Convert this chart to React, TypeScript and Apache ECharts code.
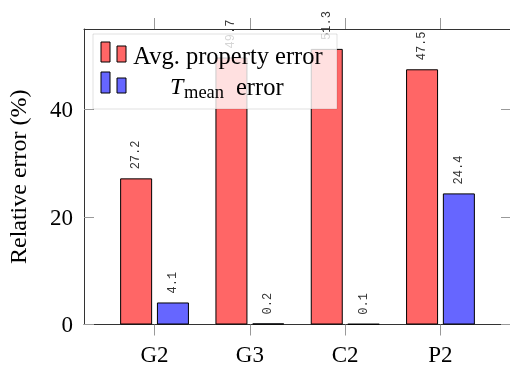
import React, { useEffect, useRef } from "react";
import * as echarts from "echarts";

const categories = ["G2", "G3", "C2", "P2"];
const avgPropertyError = [27.2, 49.7, 51.3, 47.5];
const tMeanError = [4.1, 0.2, 0.1, 24.4];
const yTicks = [0, 20, 40];
const seriesNames = ["Avg. property error", "T_mean error"];

const SERIF = "'Liberation Serif', 'Times New Roman', serif";
const MONO = "'Liberation Mono', 'DejaVu Sans Mono', monospace";

export default function App() {
  const ref = useRef<HTMLDivElement>(null);
  useEffect(() => {
    if (!ref.current) return;
    const chart = echarts.init(ref.current, undefined, { renderer: "svg" });
    const catIdx = categories.map((_, i) => i);
    const labelCfg = {
      show: true,
      position: "top",
      rotate: 90,
      distance: 9,
      align: "left",
      verticalAlign: "middle",
      fontSize: 12,
      fontFamily: MONO,
      color: "#333",
      formatter: (p: any) => String(p.value[1]),
    };
    const axisLineCfg = { show: true, onZero: false, lineStyle: { color: "#333", width: 1 } };
    const xCommon = {
      type: "value",
      min: -0.74,
      max: 3.74,
      splitLine: { show: false },
      axisLine: axisLineCfg,
    };
    const Z = 100;
    const option: any = {
      animation: false,
      grid: { left: 84, right: -1, top: 29, bottom: 40.5, containLabel: false, outerBoundsMode: "none" },
      xAxis: [
        {
          ...xCommon,
          position: "bottom",
          axisTick: { show: true, customValues: catIdx, length: 11, inside: false, lineStyle: { color: "#999" } },
          axisLabel: {
            show: true,
            customValues: catIdx,
            formatter: (v: number) => categories[Math.round(v)] ?? "",
            fontSize: 23,
            fontFamily: SERIF,
            color: "#000",
            margin: 18,
          },
        },
        {
          ...xCommon,
          position: "top",
          axisTick: { show: true, customValues: catIdx, length: 11, inside: false, lineStyle: { color: "#999" } },
          axisLabel: { show: false },
        },
      ],
      yAxis: [
        {
          type: "value",
          min: 0,
          max: 55,
          position: "left",
          name: "Relative error (%)",
          nameLocation: "middle",
          nameGap: 54,
          nameTextStyle: { fontSize: 24, fontFamily: SERIF, color: "#000" },
          splitLine: { show: false },
          axisLine: axisLineCfg,
          axisTick: { show: true, customValues: yTicks, inside: true, length: 10, lineStyle: { color: "#999" } },
          axisLabel: {
            show: true,
            customValues: yTicks,
            fontSize: 23,
            fontFamily: SERIF,
            color: "#000",
            margin: 11,
          },
        },
        {
          type: "value",
          min: 0,
          max: 55,
          position: "right",
          splitLine: { show: false },
          axisLine: { show: false, onZero: false },
          axisTick: { show: true, customValues: yTicks, inside: true, length: 10, lineStyle: { color: "#999" } },
          axisLabel: { show: false },
        },
      ],
      series: [
        {
          name: seriesNames[0],
          type: "bar",
          xAxisIndex: 0,
          yAxisIndex: 0,
          barWidth: 32,
          barGap: "15%",
          data: avgPropertyError.map((v, i) => [i, v]),
          itemStyle: { color: "#FF6666", borderColor: "#000", borderWidth: 1 },
          label: labelCfg,
        },
        {
          name: seriesNames[1],
          type: "bar",
          xAxisIndex: 0,
          yAxisIndex: 0,
          barWidth: 32,
          barGap: "15%",
          data: tMeanError.map((v, i) => [i, v]),
          itemStyle: { color: "#6666FF", borderColor: "#000", borderWidth: 1 },
          label: labelCfg,
        },
      ],
      graphic: [
        {
          type: "rect",
          z: Z,
          shape: { x: 93, y: 34, width: 244, height: 75 },
          style: { fill: "rgba(255,255,255,0.8)", stroke: "rgba(0,0,0,0.12)", lineWidth: 1 },
        },
        { type: "rect", z: Z + 1, shape: { x: 101, y: 42, width: 9, height: 20 }, style: { fill: "#FF6666", stroke: "#000", lineWidth: 1 } },
        { type: "rect", z: Z + 1, shape: { x: 117, y: 46, width: 9, height: 16 }, style: { fill: "#FF6666", stroke: "#000", lineWidth: 1 } },
        { type: "rect", z: Z + 1, shape: { x: 101, y: 72, width: 9, height: 21 }, style: { fill: "#6666FF", stroke: "#000", lineWidth: 1 } },
        { type: "rect", z: Z + 1, shape: { x: 117, y: 78, width: 9, height: 15 }, style: { fill: "#6666FF", stroke: "#000", lineWidth: 1 } },
        {
          type: "text",
          z: Z + 1,
          x: 228,
          y: 55,
          style: { text: seriesNames[0], fontSize: 24.5, fontFamily: SERIF, fill: "#000", textAlign: "center", textVerticalAlign: "middle" },
        },
        {
          type: "text",
          z: Z + 1,
          x: 170,
          y: 86,
          style: { text: "T", fontSize: 24, fontFamily: SERIF, fontStyle: "italic", fill: "#000", textAlign: "left", textVerticalAlign: "middle" },
        },
        {
          type: "text",
          z: Z + 1,
          x: 184,
          y: 92,
          style: { text: "mean", fontSize: 18.5, fontFamily: SERIF, fill: "#000", textAlign: "left", textVerticalAlign: "middle" },
        },
        {
          type: "text",
          z: Z + 1,
          x: 236,
          y: 86,
          style: { text: "error", fontSize: 24.5, fontFamily: SERIF, fill: "#000", textAlign: "left", textVerticalAlign: "middle" },
        },
      ],
    };
    chart.setOption(option);
    return () => chart.dispose();
  }, []);
  return <div ref={ref} style={{ position: "fixed", left: 0, top: 0, width: 510, height: 365 }} />;
}
